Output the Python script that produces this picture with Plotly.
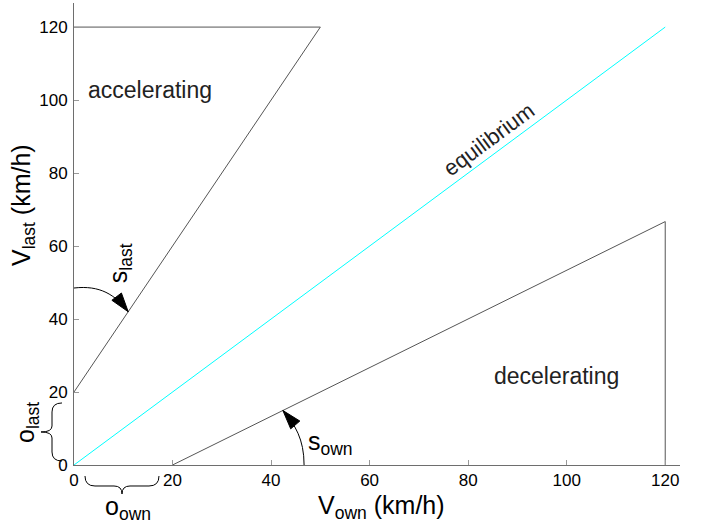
import math
import plotly.graph_objects as go

# Boundary of the accelerating region: V_last = 20 + 2*V_own, capped at 120
accel_x = [0, 50, 0]
accel_y = [20, 120, 120]

# Equilibrium line V_last = V_own
equil_x = [0, 120]
equil_y = [0, 120]

# Boundary of the decelerating region: V_last = (V_own - 20) * 2/3, closed at 120
decel_x = [20, 120, 120]
decel_y = [0, 66.7, 0]

tick_vals = [0, 20, 40, 60, 80, 100, 120]
tick_text = ["0", "20", "40", "60", "80", "100", "120"]

W, H = 709, 527
ML, MR, MT, MB = 74, 29, 3, 62
X_RANGE = [0, 123]
Y_RANGE = [0, 126.6]
PW = W - ML - MR
PH = H - MT - MB

FONT = "Liberation Sans, Arial, Helvetica, sans-serif"
LINE_COL = "#555555"
AXIS_COL = "#6e6e6e"


def to_data(px, py):
    x = X_RANGE[0] + (px - ML) / PW * (X_RANGE[1] - X_RANGE[0])
    y = Y_RANGE[0] + (H - MB - py) / PH * (Y_RANGE[1] - Y_RANGE[0])
    return x, y


def to_px(x, y):
    px = ML + (x - X_RANGE[0]) / (X_RANGE[1] - X_RANGE[0]) * PW
    py = H - MB - (y - Y_RANGE[0]) / (Y_RANGE[1] - Y_RANGE[0]) * PH
    return px, py


def to_paper(px, py):
    return (px - ML) / PW, (H - MB - py) / PH


def path_data(cmds):
    out = []
    for c in cmds:
        if isinstance(c, str):
            out.append(c)
        else:
            x, y = to_data(*c)
            out.append(f"{x:.4f},{y:.4f}")
    return " ".join(out)


def path_paper(cmds):
    out = []
    for c in cmds:
        if isinstance(c, str):
            out.append(c)
        else:
            x, y = to_paper(*c)
            out.append(f"{x:.5f},{y:.5f}")
    return " ".join(out)


def arrow_head(tip, frm, length=19, width=12):
    dx, dy = tip[0] - frm[0], tip[1] - frm[1]
    n = math.hypot(dx, dy)
    ux, uy = dx / n, dy / n
    bx, by = tip[0] - ux * length, tip[1] - uy * length
    px_, py_ = -uy, ux
    p1 = (bx + px_ * width / 2, by + py_ * width / 2)
    p2 = (bx - px_ * width / 2, by - py_ * width / 2)
    return ["M", tip, "L", p1, "L", p2, "Z"]


fig = go.Figure()
fig.add_trace(go.Scatter(x=accel_x, y=accel_y, mode="lines",
                         line=dict(color=LINE_COL, width=1), hoverinfo="skip"))
fig.add_trace(go.Scatter(x=equil_x, y=equil_y, mode="lines",
                         line=dict(color="#00ffff", width=1), hoverinfo="skip"))
fig.add_trace(go.Scatter(x=decel_x, y=decel_y, mode="lines",
                         line=dict(color=LINE_COL, width=1), hoverinfo="skip"))

shapes = []

# slope arrow onto the accelerating boundary
tip_last = to_px((42 - accel_y[0]) / 2, 42)
start_last = to_px(0, 48.5)
c1 = (start_last[0] + 26, start_last[1] - 3)
c2 = (tip_last[0] - 13, tip_last[1] - 17)
shapes.append(dict(type="path", xref="x", yref="y",
                   path=path_data(["M", start_last, "C", c1, c2, tip_last]),
                   line=dict(color="black", width=1)))
shapes.append(dict(type="path", xref="x", yref="y",
                   path=path_data(arrow_head(tip_last, c2)),
                   fillcolor="black", line=dict(color="black", width=1)))

# slope arrow onto the decelerating boundary
x_tip = 42.4
tip_own = to_px(x_tip, (x_tip - 20) * 2 / 3)
start_own = to_px(46.7, 0)
d1 = (start_own[0], start_own[1] - 26)
d2 = (tip_own[0] + 12, tip_own[1] + 14)
shapes.append(dict(type="path", xref="x", yref="y",
                   path=path_data(["M", start_own, "C", d1, d2, tip_own]),
                   line=dict(color="black", width=1)))
shapes.append(dict(type="path", xref="x", yref="y",
                   path=path_data(arrow_head(tip_own, d2)),
                   fillcolor="black", line=dict(color="black", width=1)))

# offset braces outside the axes
y_top = to_px(0, 17)[1]
y_bot = to_px(0, 0)[1] - 4
y_mid = (y_top + y_bot) / 2
brace_v = ["M", (62, y_top), "Q", (52, y_top), (52, y_top + 9),
           "L", (52, y_mid - 6), "Q", (52, y_mid), (41, y_mid),
           "Q", (52, y_mid), (52, y_mid + 6),
           "L", (52, y_bot - 9), "Q", (52, y_bot), (62, y_bot)]
shapes.append(dict(type="path", xref="paper", yref="paper",
                   path=path_paper(brace_v), line=dict(color="black", width=1)))

x_l, x_r = 85, 159
x_mid = (x_l + x_r) / 2
brace_h = ["M", (x_l, 476), "Q", (x_l, 486), (x_l + 10, 486),
           "L", (x_mid - 8, 486), "Q", (x_mid, 486), (x_mid, 494),
           "Q", (x_mid, 486), (x_mid + 8, 486),
           "L", (x_r - 10, 486), "Q", (x_r, 486), (x_r, 476)]
shapes.append(dict(type="path", xref="paper", yref="paper",
                   path=path_paper(brace_h), line=dict(color="black", width=1)))

fig.update_layout(shapes=shapes)

big = dict(family=FONT, size=23, color="#222222")
sym = dict(family=FONT, size=25, color="black")


def note(text, x, y, font, angle=0, xref="x", yref="y"):
    fig.add_annotation(text=text, x=x, y=y, xref=xref, yref=yref,
                       showarrow=False, font=font, textangle=angle,
                       xanchor="center", yanchor="middle")


note("accelerating", 15.4, 102.8, big)
note("equilibrium", 84.2, 89.1, dict(family=FONT, size=22, color="#222222"), angle=-36.5)
note("decelerating", 98.0, 24.4, big)
note("s<sub>last</sub>", 9.2, 55.4, sym, angle=-90)
note("s<sub>own</sub>", 52.0, 6.0, sym)

# offset labels sit outside the axes, so they are placed in paper units
ol = to_paper(27, 423)
note("o<sub>last</sub>", ol[0], ol[1], sym, angle=-90, xref="paper", yref="paper")
oo = to_paper(128, 508)
note("o<sub>own</sub>", oo[0], oo[1], sym, xref="paper", yref="paper")

# axis titles
ax_t = dict(family=FONT, size=25, color="black")
xt = to_paper(381, 507)
note("V<sub>own</sub> (km/h)", xt[0], xt[1], ax_t, xref="paper", yref="paper")
yt = to_paper(23, 205)
note("V<sub>last</sub> (km/h)", yt[0], yt[1], ax_t, angle=-90, xref="paper", yref="paper")

axis_common = dict(
    showgrid=False, zeroline=False, showline=True, linecolor=AXIS_COL, linewidth=1,
    ticks="inside", ticklen=5, tickcolor="#999999", tickwidth=1,
    tickvals=tick_vals, ticktext=tick_text,
    tickfont=dict(family=FONT, size=17, color="black"),
)
fig.update_xaxes(range=X_RANGE, ticklabelstandoff=0, **axis_common)
fig.update_yaxes(range=Y_RANGE, ticklabelstandoff=2, **axis_common)

fig.update_layout(
    width=W, height=H,
    margin=dict(l=ML, r=MR, t=MT, b=MB),
    paper_bgcolor="white", plot_bgcolor="white",
    showlegend=False,
)

fig.write_html("out.html")
